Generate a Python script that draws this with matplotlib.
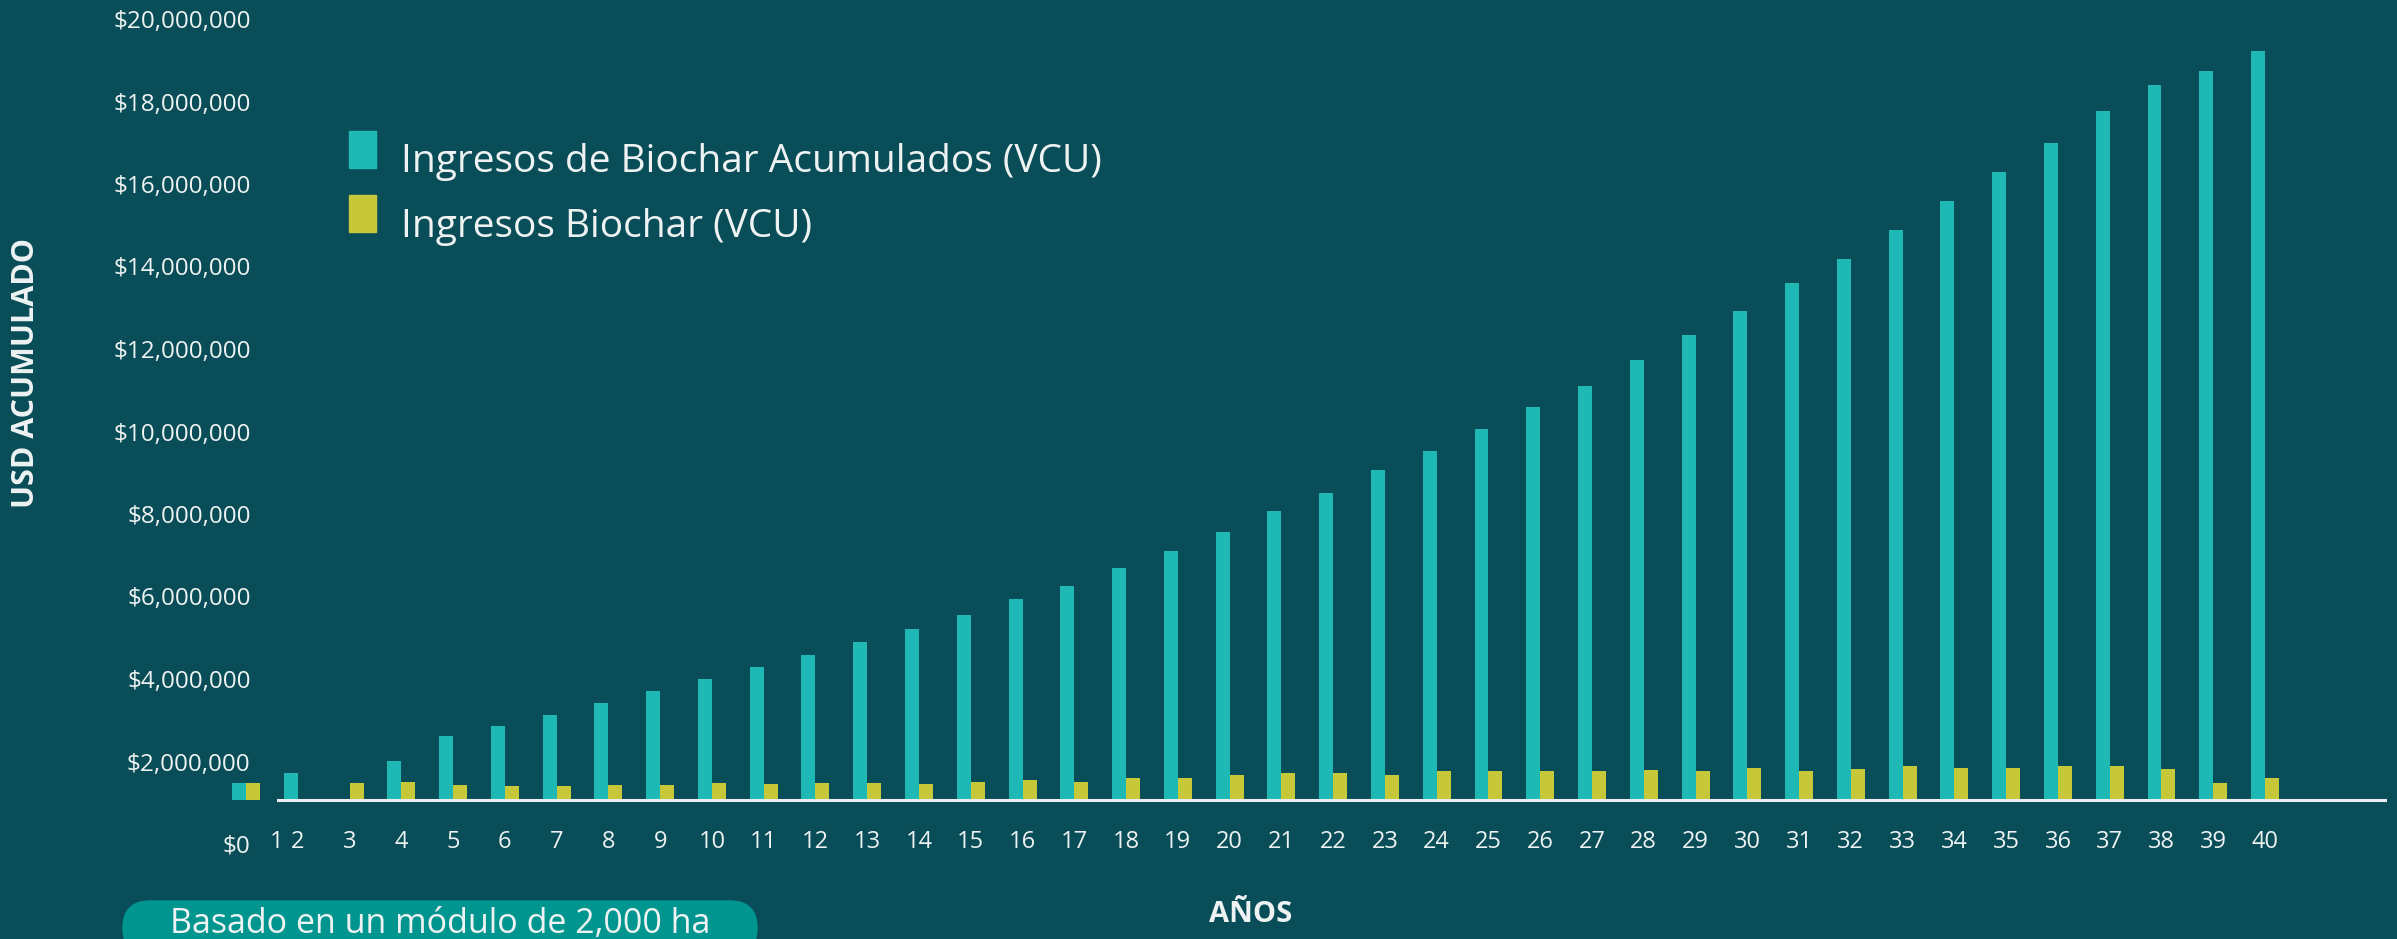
import numpy as np
import matplotlib.pyplot as plt
from matplotlib.patches import FancyBboxPatch, Rectangle

# valores (millones USD)
years = list(range(1, 41))
acumulado = [1.49, 1.73, np.nan, 2.02, 2.63, 2.85, 3.12, 3.41, 3.71, 4.00,
             4.29, 4.59, 4.89, 5.22, 5.56, 5.93, 6.26, 6.70, 7.11, 7.56,
             8.07, 8.52, 9.07, 9.52, 10.07, 10.59, 11.11, 11.74, 12.33, 12.93,
             13.59, 14.19, 14.89, 15.59, 16.30, 17.00, 17.78, 18.41, 18.74, 19.22]
anual = [1.49, np.nan, 1.49, 1.51, 1.44, 1.41, 1.41, 1.44, 1.44, 1.49,
         1.46, 1.49, 1.49, 1.46, 1.51, 1.54, 1.51, 1.59, 1.59, 1.68,
         1.71, 1.71, 1.68, 1.76, 1.76, 1.76, 1.76, 1.80, 1.78, 1.85,
         1.78, 1.83, 1.88, 1.85, 1.85, 1.90, 1.90, 1.83, 1.49, 1.59]
yticks = [0, 2, 4, 6, 8, 10, 12, 14, 16, 18, 20]
labels = ["Ingresos de Biochar Acumulados (VCU)", "Ingresos Biochar (VCU)"]
base = 1.07  # linea base del grafico

BG = "#084d57"
TEAL = "#1eb9b5"
YEL = "#c6c83a"
TXT = "#eef2f2"
FONT = "Open Sans"

plt.rcParams["font.family"] = [FONT, "DejaVu Sans"]

W, H = 2397, 939
fig = plt.figure(figsize=(W / 100, H / 100), dpi=100, facecolor=BG)

x0, x1 = 277, 2387
c1, step = 246, 51.77
ax = fig.add_axes([x0 / W, 1 - 844 / H, (x1 - x0) / W, (844 - 19) / H])
ax.set_facecolor("none")
ax.set_xlim(1 + (x0 - c1) / step, 1 + (x1 - c1) / step)
ax.set_ylim(0, 20e6)

x = np.array(years, dtype=float)
acu = np.array(acumulado) * 1e6
anu = np.array(anual) * 1e6
b = base * 1e6
bw = 0.27
ax.bar(x - bw / 2, acu - b, bw, bottom=b, color=TEAL, clip_on=False, zorder=2)
ax.bar(x + bw / 2, anu - b, bw, bottom=b, color=YEL, clip_on=False, zorder=2)
ax.axhline(b, color="#e9eff0", lw=2.2, zorder=3)

for s in ax.spines.values():
    s.set_visible(False)
ax.set_xticks([])
ax.set_yticks([v * 1e6 for v in yticks])
ax.set_yticklabels(["${:,.0f}".format(v * 1e6) for v in yticks])
ax.tick_params(axis="y", length=0, pad=19, labelsize=17.5, labelcolor=TXT)
for yr in years:
    # el "1" se corre un poco para no chocar con "$0"
    xp = yr + 0.6 if yr == 1 else yr
    ax.text(xp, 0.05e6, str(yr), ha="center", va="center", fontsize=17, color=TXT)

# capa superior en pixeles para leyenda, titulos y etiqueta
ov = fig.add_axes([0, 0, 1, 1])
ov.set_xlim(0, W)
ov.set_ylim(H, 0)
ov.axis("off")
ov.patch.set_visible(False)

for i, (lab, col) in enumerate(zip(labels, [TEAL, YEL])):
    ov.add_patch(Rectangle((349, 131 + i * 64), 27, 37, color=col))
    ov.text(401, 172 + i * 65, lab, ha="left", va="baseline", fontsize=28, color=TXT)

ov.text(26, 373, "USD ACUMULADO", rotation=90, ha="center", va="center",
        fontsize=22, fontweight="bold", color=TXT)
ov.text(1251, 914, "AÑOS", ha="center", va="center", fontsize=21,
        fontweight="bold", color=TXT)

ov.add_patch(FancyBboxPatch((150, 901 + 27), 580, 0.1,
                            boxstyle="round,pad=27", color="#00968f"))
ov.text(440, 933, "Basado en un módulo de 2,000 ha", ha="center", va="baseline",
        fontsize=24.5, color=TXT)

fig.savefig("out.png", dpi=100, facecolor=BG)
